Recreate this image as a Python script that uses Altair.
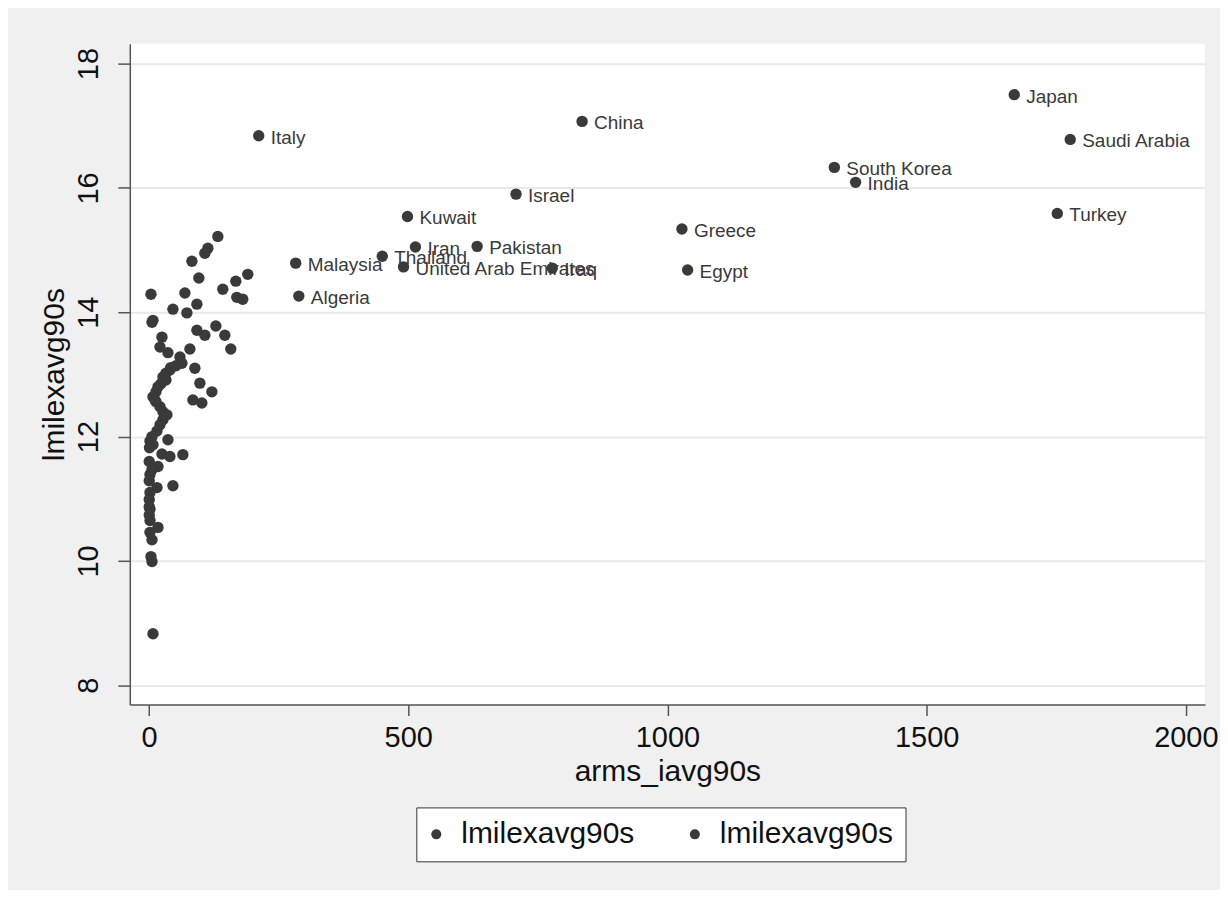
import altair as alt
import pandas as pd

# Unlabelled cluster (arms imports avg 1990s, log military expenditure avg 1990s)
cluster_x = [132.8, 113.6, 107.8, 82.8, 96.2, 3.8, 69.3, 142.4, 167.5, 190.6,
             169.4, 180.9, 46.2, 92.4, 73.1, 7.7, 5.8, 92.4, 107.8, 129.0,
             146.3, 157.8, 25.0, 21.2, 36.6, 59.7, 78.9, 63.5, 88.5, 40.4,
             52.0, 98.2, 121.3, 84.7, 102.0, 26.9, 32.7, 17.3, 13.5, 7.7,
             13.5, 21.2, 26.9, 34.6, 26.9, 21.2, 15.4, 5.8, 1.9, 36.6,
             1.0, 7.7, 40.4, 25.0, 65.4, 0.5, 17.3, 5.8, 1.9, 0.5,
             15.4, 46.2, 1.9, 0.5, 0.5, 2.0, 0.5, 2.0, 17.3, 1.9,
             5.8, 3.8, 5.8, 7.7, 11.5, 42.0, 32.7, 23.0]
cluster_y = [15.22, 15.03, 14.95, 14.82, 14.55, 14.29, 14.31, 14.37, 14.50, 14.61,
             14.24, 14.21, 14.05, 14.13, 13.99, 13.87, 13.84, 13.71, 13.63, 13.78,
             13.63, 13.41, 13.60, 13.44, 13.35, 13.28, 13.41, 13.18, 13.10, 13.07,
             13.14, 12.86, 12.72, 12.59, 12.54, 12.96, 13.02, 12.80, 12.72, 12.64,
             12.56, 12.48, 12.40, 12.35, 12.27, 12.19, 12.09, 12.00, 11.93, 11.95,
             11.82, 11.87, 11.68, 11.72, 11.71, 11.60, 11.52, 11.47, 11.39, 11.29,
             11.18, 11.21, 11.10, 10.99, 10.87, 10.83, 10.74, 10.65, 10.54, 10.46,
             10.34, 10.07, 9.99, 8.83, 12.59, 13.11, 12.91, 12.85]

# Labelled countries
countries = ["Italy", "China", "Japan", "Saudi Arabia", "South Korea", "India",
             "Turkey", "Israel", "Kuwait", "Greece", "Iran", "Pakistan",
             "Thailand", "Malaysia", "United Arab Emirates", "Iraq", "Egypt", "Algeria"]
country_x = [211.7, 835.4, 1669, 1777, 1322, 1363, 1752, 708, 498.6, 1028,
             514, 633, 450, 283, 491, 778, 1039, 289]
country_y = [16.84, 17.07, 17.50, 16.78, 16.33, 16.09, 15.59, 15.90, 15.54, 15.34,
             15.05, 15.06, 14.90, 14.79, 14.73, 14.71, 14.68, 14.26]

series_names = ["lmilexavg90s (unlabelled)", "lmilexavg90s (labelled)"]
x_ticks = [0, 500, 1000, 1500, 2000]
y_ticks = [8, 10, 12, 14, 16, 18]

df = pd.concat([
    pd.DataFrame({"arms_iavg90s": cluster_x, "lmilexavg90s": cluster_y,
                  "country": [""] * len(cluster_x), "series": series_names[0]}),
    pd.DataFrame({"arms_iavg90s": country_x, "lmilexavg90s": country_y,
                  "country": countries, "series": series_names[1]}),
], ignore_index=True)

FONT = "Liberation Sans"
DOT = "#3a3a3a"

xenc = alt.X("arms_iavg90s:Q",
             scale=alt.Scale(domain=[-37, 2037], nice=False, zero=False),
             axis=alt.Axis(values=x_ticks, format="d", title="arms_iavg90s", grid=False,
                           labelFontSize=29, titleFontSize=30, labelFont=FONT, titleFont=FONT,
                           labelColor="#111", titleColor="#111", titleFontWeight="normal",
                           tickSize=11, labelPadding=8, titlePadding=4,
                           domainColor="#555", tickColor="#555", domainWidth=1.5, tickWidth=1.5))
yenc = alt.Y("lmilexavg90s:Q",
             scale=alt.Scale(domain=[7.69, 18.32], nice=False, zero=False),
             axis=alt.Axis(values=y_ticks, format="d", title="lmilexavg90s", grid=True,
                           gridColor="#e9e9e9", gridWidth=2,
                           labelFontSize=29, titleFontSize=30, labelFont=FONT, titleFont=FONT,
                           labelColor="#111", titleColor="#111", titleFontWeight="normal",
                           labelAngle=270, labelAlign="center", labelBaseline="bottom",
                           tickSize=12, labelPadding=14, titlePadding=5,
                           domainColor="#555", tickColor="#555", domainWidth=1.5, tickWidth=1.5))

points = alt.Chart(df).mark_circle(size=130, opacity=1).encode(
    x=xenc, y=yenc,
    color=alt.Color("series:N",
                    scale=alt.Scale(domain=series_names, range=[DOT, DOT]),
                    legend=alt.Legend(title=None, orient="none", legendX=287, legendY=765,
                                      direction="horizontal", columns=2,
                                      labelExpr="'lmilexavg90s'",
                                      labelFontSize=30, labelFont=FONT, labelColor="#111",
                                      symbolType="circle", symbolSize=100,
                                      symbolStrokeWidth=0, symbolOffset=-7, labelOffset=10,
                                      columnPadding=52, padding=12,
                                      fillColor="white", strokeColor="#333",
                                      labelLimit=400)),
)

labels = alt.Chart(df).transform_filter("datum.country != ''").mark_text(
    align="left", baseline="middle", dx=12, dy=2, fontSize=19, font=FONT, color="#3a3a3a"
).encode(x="arms_iavg90s:Q", y="lmilexavg90s:Q", text="country:N")

chart = (points + labels).properties(
    width=1077, height=662,
    background="#f0f0f0",
    padding={"left": 122, "top": 35, "right": 15, "bottom": 185},
    autosize=alt.AutoSizeParams(type="none"),
).configure_view(fill="white", stroke=None)

chart.save("out.html", embed_options={"renderer": "svg", "actions": False})
